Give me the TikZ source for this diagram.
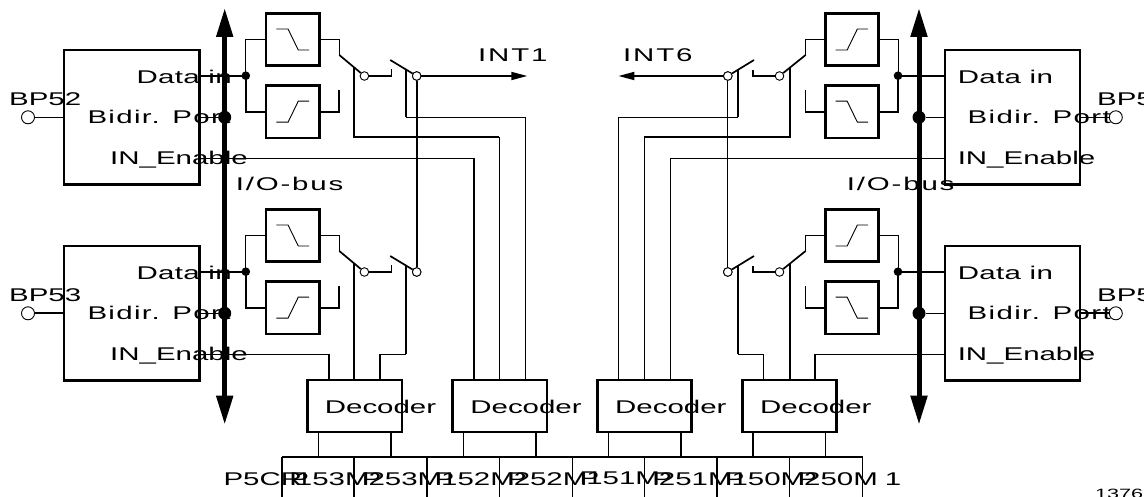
\documentclass[tikz,border=0pt]{standalone}
\usepackage{fontspec}
\setmainfont[FakeStretch=1.6]{Liberation Sans}
\usetikzlibrary{arrows.meta}
\tikzset{
  portblock/.style={draw,line width=2.4pt,minimum width=135.4pt,minimum height=134.3pt,inner sep=0pt},
  filt/.style={draw,line width=2.4pt,minimum width=53.1pt,minimum height=52.2pt,inner sep=0pt},
  decoder/.style={draw,line width=2.4pt,minimum width=94.2pt,minimum height=52.3pt,inner sep=0pt},
  thinl/.style={line width=0.9pt},
  medl/.style={line width=1.7pt},
  glyph/.style={line width=0.9pt},
  bus/.style={line width=5pt,{Triangle[width=16pt,length=29pt]}-{Triangle[width=16pt,length=29pt]}},
  intarrow/.style={line width=1.8pt,-{Triangle[width=8pt,length=16pt]}},
  jdot/.style={circle,fill=black,inner sep=0pt,minimum size=8.6pt},
  busdot/.style={circle,fill=black,inner sep=0pt,minimum size=13pt},
  opendot/.style={circle,draw,fill=white,line width=0.9pt,inner sep=0pt,minimum size=8.6pt},
  pin/.style={circle,draw,fill=white,line width=0.9pt,inner sep=0pt,minimum size=13pt},
  lbl/.style={anchor=west,inner sep=0pt,font=\fontsize{18.4}{20}\selectfont},
  lbldata/.style={anchor=west,inner sep=0pt,font=\fontsize{18.4}{20}\selectfont\addfontfeature{LetterSpace=2}},
  lblport/.style={anchor=west,inner sep=0pt,font=\fontsize{18.4}{20}\selectfont\addfontfeature{LetterSpace=7.4}},
  lblwide/.style={anchor=west,inner sep=0pt,font=\fontsize{18.4}{20}\selectfont\addfontfeature{LetterSpace=10}},
  smalllbl/.style={anchor=west,inner sep=0pt,font=\fontsize{13.5}{15}\selectfont},
}
\newcommand\fallglyph[1]{\draw[glyph] ([shift={(-16.3,-10.5)}]#1.center) -- ++(11.6,0) -- ++(10.2,21) -- ++(10.8,0);}
\newcommand\riseglyph[1]{\draw[glyph] ([shift={(-16.3,10.5)}]#1.center) -- ++(11.6,0) -- ++(10.2,-21) -- ++(10.8,0);}
\begin{document}
\begin{tikzpicture}[x=1pt,y=-1pt]
\useasboundingbox (0,0) rectangle (1144,497);
\clip (0,0) rectangle (1144,497);
% buses
\coordinate (busLt) at (224.7,8);
\coordinate (busLb) at (224.7,424.7);
\coordinate (busRt) at (919,8);
\coordinate (busRb) at (919,424.7);
\draw[bus] (busLt) -- (busLb);
\draw[bus] (busRt) -- (busRb);
% decoders
\node[decoder] (dec1) at (354.7,405.85) {};
\node[decoder] (dec2) at (499.6,405.85) {};
\node[decoder] (dec3) at (644.55,405.85) {};
\node[decoder] (dec4) at (789.45,405.85) {};
% port groups
\foreach \p/\dy/\blk/\pw in {u/0/BP52/thinl,l/196/BP53/medl}{
  % left
  \node[portblock] (\p LB) at (131.8,117.2+\dy) {};
  \node[filt] (\p LF1) at (292.75,39.5+\dy) {};
  \node[filt] (\p LF2) at (292.75,111.7+\dy) {};
  \fallglyph{\p LF1}
  \riseglyph{\p LF2}
  \node[pin] (\p LP) at (28,117.3+\dy) {};
  \draw[\pw] (\p LP) -- (\p LP -| \p LB.west);
  \coordinate (\p LJ) at (245.8,75.7+\dy);
  \coordinate (\p LE) at (\p LB.east |- \p LJ);
  \draw[medl] (\p LE) -- (\p LJ);
  \draw[thinl] (\p LF1.west) -| (\p LJ);
  \draw[medl] (\p LF2.west) -| (\p LJ);
  \node[jdot] at (\p LJ) {};
  \node[busdot] (\p LD) at (224.7,117.3+\dy) {};
  \draw[thinl] (\p LD -| \p LB.east) -- (\p LD);
  % left switches
  \coordinate (\p LA) at (339.3,55+\dy);
  \coordinate (\p LC) at (339.3,90+\dy);
  \node[opendot] (\p LS1) at (364.4,76+\dy) {};
  \coordinate (\p LG) at (391.6,76+\dy);
  \coordinate (\p LH) at (391.6,69+\dy);
  \coordinate (\p LK) at (390.2,60+\dy);
  \node[opendot] (\p LS2) at (416.7,76+\dy) {};
  \draw[thinl] (\p LF1.east) -| (\p LA);
  \draw[medl] (\p LF2.east) -| (\p LC);
  \draw[medl] (\p LA) -- (\p LS1);
  \draw[medl] (\p LS1) -- (\p LG) -- (\p LH);
  \draw[medl] (\p LK) -- (\p LS2);
  \coordinate (\p LM) at (354.2,67.5+\dy);
  \coordinate (\p LN) at (405.8,69.4+\dy);
  % right
  \node[portblock] (\p RB) at (1012.5,117.2+\dy) {};
  \node[filt] (\p RF1) at (851.85,39.5+\dy) {};
  \node[filt] (\p RF2) at (851.85,111.7+\dy) {};
  \riseglyph{\p RF1}
  \fallglyph{\p RF2}
  \coordinate (\p RJ) at (898,75.7+\dy);
  \coordinate (\p RE) at (\p RB.west |- \p RJ);
  \draw[medl] (\p RE) -- (\p RJ);
  \draw[thinl] (\p RF1.east) -| (\p RJ);
  \draw[medl] (\p RF2.east) -| (\p RJ);
  \node[jdot] at (\p RJ) {};
  \node[busdot] (\p RD) at (919,117.3+\dy) {};
  \draw[thinl] (\p RD -| \p RB.west) -- (\p RD);
  % right switches
  \coordinate (\p RA) at (805.6,55+\dy);
  \coordinate (\p RC) at (805.6,90+\dy);
  \node[opendot] (\p RS1) at (779.5,76+\dy) {};
  \coordinate (\p RG) at (753,76+\dy);
  \coordinate (\p RH) at (753,70+\dy);
  \coordinate (\p RK) at (754,60+\dy);
  \node[opendot] (\p RS2) at (727.8,76+\dy) {};
  \draw[thinl] (\p RF1.west) -| (\p RA);
  \draw[medl] (\p RF2.west) -| (\p RC);
  \draw[medl] (\p RA) -- (\p RS1);
  \draw[medl] (\p RS1) -- (\p RG) -- (\p RH);
  \draw[medl] (\p RK) -- (\p RS2);
  \coordinate (\p RM) at (790,67.6+\dy);
  \coordinate (\p RN) at (738,69.8+\dy);
  % labels
  \node[lbldata] at (136.4,76.7+\dy) {Data in};
  \node[lblport] at (87.3,117.3+\dy) {Bidir. Port};
  \node[lbl] at (110,160+\dy) {IN\_Enable};
  \node[lbldata] at (957.6,76.7+\dy) {Data in};
  \node[lblport] at (967.5,117.3+\dy) {Bidir. Port};
  \node[lbl] at (957.6,160+\dy) {IN\_Enable};
  \node[lbl] at (1097,99+\dy) {BP5};
  \node[lbl] at (9,99+\dy) {\blk};
  \draw[\pw] (\p RB.east |- 0,117.3+\dy) -- (1109.3,117.3+\dy);
  \node[pin] (\p RP) at (1115.8,117.3+\dy) {};
}
% outputs
\coordinate (int1) at (527.3,76);
\coordinate (int6) at (618.4,76);
\draw[intarrow] (uLS2) -- (int1);
\draw[intarrow] (uRS2) -- (int6);
\draw[medl] (uLS2) -- (lLS2);
\draw[thinl] (uRS2) -- (lRS2);
\node[opendot] at (uLS2) {};
\node[opendot] at (lLS2) {};
\node[opendot] at (uRS2) {};
\node[opendot] at (lRS2) {};
% control lines to decoder 2
\draw[medl] (uLM) -- (354.2,137.3) -- (499.3,137.3);
\draw[thinl] (499.3,137.3) -- (499.3,379.7);
\draw[medl] (uLN) -- (405.8,117.3);
\draw[thinl] (405.8,117.3) -- (525.5,117.3) -- (525.5,379.7);
\draw[thinl] (uLB.east |- 0,158.3) -- (474.2,158.3);
\draw[medl] (474.2,158.3) -- (474.2,379.7);
% control lines to decoder 3
\draw[medl] (uRM) -- (790,137.3) -- (644.2,137.3);
\draw[thinl] (644.2,137.3) -- (644.2,379.7);
\draw[medl] (uRN) -- (738,117.3);
\draw[thinl] (738,117.3) -- (618.4,117.3) -- (618.4,379.7);
\draw[thinl] (uRB.west |- 0,158.3) -- (670.4,158.3) -- (670.4,379.7);
% control lines to decoder 1
\draw[thinl] (lLB.east |- 0,354.3) -- (329,354.3);
\draw[medl] (329,354.3) -- (329,379.7);
\draw[medl] (lLM) -- (354.2,379.7);
\draw[medl] (lLN) -- (405.8,354.3);
\draw[thinl] (405.8,354.3) -- (380,354.3);
\draw[medl] (380,354.3) -- (380,379.7);
% control lines to decoder 4
\draw[medl] (lRM) -- (790,379.7);
\draw[medl] (lRN) -- (738,354.3);
\draw[thinl] (738,354.3) -- (763.8,354.3) -- (763.8,379.7);
\draw[thinl] (lRB.west |- 0,354.3) -- (814.7,354.3);
\draw[medl] (814.7,354.3) -- (814.7,379.7);
% register
\coordinate (regL) at (281.7,457.3);
\coordinate (regR) at (862.5,457.3);
\draw[medl] (regL) -- (regR);
\foreach \x/\w in {281.7/medl,354.3/medl,426.9/medl,499.5/thinl,572.1/thinl,644.7/thinl,717.3/medl,789.9/thinl,862.5/medl}
  \draw[\w] (\x,457.3) -- (\x,497);
\foreach \x/\w in {318.3/thinl,391/medl,463.7/thinl,536/medl,608.3/thinl,681/medl,753/medl,825.3/thinl}
  \draw[\w] (\x,431.5) -- (\x,457.3);
% labels
\node[lblwide] at (235.6,184) {I/O-bus};
\node[lblwide] at (846.7,184) {I/O-bus};
\node[lblwide] at (478,55) {INT1};
\node[lblwide] at (623,55) {INT6};
\node[lbl] at (324.7,406.7) {Decoder};
\node[lbl] at (470.2,406.7) {Decoder};
\node[lbl] at (615,406.7) {Decoder};
\node[lbl] at (760,406.7) {Decoder};
\node[lbl] at (223.3,478.7) {P5CR};
\foreach \x/\t in {289.1/153M,361.7/253M,434.3/152M,506.9/252M,579.5/151M,652.1/251M,724.7/150M}
  \node[lbl] at (\x,478.7) {P\kern-13pt\ignorespaces\t};
\node[lbl] at (797.3,478.7) {P\kern-13pt 250M\kern7pt 1};
\node[smalllbl] at (1095,493.5) {1376};
\end{tikzpicture}
\end{document}
